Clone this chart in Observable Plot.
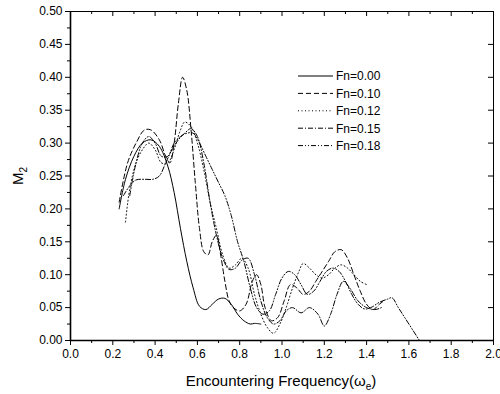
<!DOCTYPE html>
<html><head><meta charset="utf-8">
<script src="https://cdn.jsdelivr.net/npm/d3@7"></script>
<script src="https://cdn.jsdelivr.net/npm/@observablehq/plot@0.6"></script>
<style>body{margin:0;background:#fff}</style>
</head><body><div id="chart"></div>
<script>
const seriesNames = ["Fn=0.00","Fn=0.10","Fn=0.12","Fn=0.15","Fn=0.18"];
const dashes = [null, "5,3", "1,2.5", "5,2,1,2", "5,2,1,2,1,2"];

const x00 = [0.23,0.26,0.30,0.34,0.38,0.42,0.46,0.49,0.52,0.55,0.58,0.61,0.64,0.67,0.70,0.73,0.76,0.79,0.82,0.85,0.87,0.90];
const y00 = [0.20,0.245,0.28,0.30,0.305,0.295,0.265,0.225,0.17,0.12,0.08,0.052,0.047,0.055,0.063,0.064,0.055,0.04,0.03,0.025,0.026,0.025];

const x10 = [0.23,0.27,0.31,0.35,0.38,0.42,0.45,0.47,0.49,0.51,0.53,0.55,0.57,0.59,0.61,0.63,0.65,0.67,0.69,0.71,0.73,0.75,0.77,0.80,0.83,0.86,0.88,0.90,0.92,0.95,0.98,1.01,1.04,1.07,1.10,1.13,1.16,1.19,1.22,1.25,1.28,1.31,1.34,1.37,1.40,1.43,1.46,1.48];
const y10 = [0.21,0.27,0.30,0.32,0.32,0.305,0.28,0.27,0.30,0.36,0.40,0.38,0.32,0.24,0.17,0.135,0.13,0.15,0.16,0.13,0.09,0.06,0.05,0.045,0.055,0.09,0.10,0.085,0.05,0.03,0.035,0.06,0.085,0.08,0.07,0.075,0.09,0.105,0.12,0.135,0.138,0.125,0.10,0.075,0.055,0.047,0.055,0.06];

const x12 = [0.26,0.28,0.31,0.34,0.37,0.40,0.43,0.46,0.49,0.52,0.54,0.57,0.60,0.63,0.66,0.69,0.72,0.75,0.78,0.81,0.84,0.87,0.90,0.93,0.96,0.99,1.02,1.05,1.08,1.10,1.13,1.16,1.19,1.22,1.25,1.28,1.31,1.34,1.37,1.40];
const y12 = [0.18,0.23,0.27,0.29,0.30,0.29,0.27,0.27,0.29,0.32,0.332,0.325,0.30,0.26,0.21,0.17,0.13,0.11,0.115,0.125,0.11,0.07,0.04,0.02,0.011,0.025,0.05,0.08,0.105,0.117,0.11,0.10,0.095,0.10,0.11,0.115,0.11,0.10,0.09,0.085];

const x15 = [0.25,0.28,0.31,0.35,0.39,0.42,0.45,0.48,0.51,0.54,0.57,0.60,0.63,0.66,0.69,0.72,0.75,0.78,0.81,0.84,0.87,0.90,0.93,0.96,0.99,1.02,1.05,1.09,1.13,1.17,1.20,1.23,1.26,1.29,1.32,1.36,1.40,1.44,1.47];
const y15 = [0.22,0.235,0.244,0.245,0.245,0.25,0.27,0.29,0.305,0.315,0.322,0.31,0.27,0.21,0.16,0.125,0.108,0.11,0.122,0.125,0.10,0.06,0.035,0.025,0.03,0.045,0.05,0.042,0.05,0.04,0.022,0.04,0.07,0.09,0.08,0.06,0.05,0.047,0.05];

const x18 = [0.28,0.31,0.34,0.37,0.40,0.43,0.46,0.49,0.52,0.55,0.58,0.61,0.64,0.67,0.70,0.73,0.76,0.79,0.82,0.85,0.88,0.91,0.94,0.97,1.00,1.03,1.06,1.09,1.12,1.15,1.18,1.21,1.24,1.27,1.30,1.33,1.36,1.39,1.42,1.46,1.50,1.52,1.55,1.58,1.62,1.65];
const y18 = [0.22,0.27,0.30,0.31,0.30,0.28,0.28,0.30,0.31,0.315,0.315,0.30,0.28,0.26,0.24,0.22,0.19,0.15,0.12,0.08,0.05,0.04,0.045,0.07,0.095,0.105,0.10,0.085,0.07,0.075,0.09,0.105,0.11,0.105,0.09,0.07,0.055,0.048,0.05,0.058,0.063,0.065,0.05,0.035,0.015,0.0];

const xs = [x00,x10,x12,x15,x18];
const ys = [y00,y10,y12,y15,y18];

const xMajor = d3.range(0, 2.001, 0.2);
const xMinor = d3.range(0.1, 2.0, 0.2);
const yMajor = d3.range(0, 0.5001, 0.05);
const yMinor = d3.range(0.025, 0.5, 0.05);

const blank = () => "";
const font = "Arial, 'Liberation Sans', sans-serif";

const W = 500, H = 394, ML = 70, MR = 7, MT = 11, MB = 54;
const innerW = W - ML - MR, innerH = H - MT - MB;

const lineMarks = seriesNames.map((name, i) =>
  Plot.line(xs[i].map((x, j) => ({x, y: ys[i][j], name})), {
    x: "x", y: "y", stroke: "black", strokeWidth: 1,
    strokeDasharray: dashes[i], curve: "catmull-rom"
  })
);

const chart = Plot.plot({
  width: W, height: H,
  marginLeft: ML, marginRight: MR, marginTop: MT, marginBottom: MB,
  style: {fontFamily: font, fontSize: "12px", color: "black", background: "white"},
  x: {domain: [0, 2]},
  y: {domain: [0, 0.5]},
  marks: [
    ...lineMarks,
    Plot.frame({stroke: "black", strokeWidth: 1}),
    Plot.axisX({ticks: xMajor, tickSize: 5, tickPadding: 4, tickFormat: d3.format(".1f"), label: null, fontSize: 12}),
    Plot.axisX({ticks: xMinor, tickSize: 3, tickFormat: blank, label: null}),
    Plot.tickX(xMajor, {x: d => d, stroke: "black", insetBottom: innerH - 5}),
    Plot.tickX(xMinor, {x: d => d, stroke: "black", insetBottom: innerH - 3}),
    Plot.axisY({ticks: yMajor, tickSize: 5, tickPadding: 3, tickFormat: d3.format(".2f"), label: null, fontSize: 12}),
    Plot.axisY({ticks: yMinor, tickSize: 3, tickFormat: blank, label: null}),
    Plot.tickY(yMajor, {y: d => d, stroke: "black", insetLeft: innerW - 5}),
    Plot.ruleX([0], {strokeWidth: 1.6}),
    Plot.ruleY([0], {strokeWidth: 1.6})
  ]
});

document.getElementById("chart").appendChild(chart);

const svg = d3.select(chart);
// axis titles with subscripts
const xt = svg.append("text")
  .attr("x", 281).attr("y", 386).attr("text-anchor", "middle")
  .attr("font-family", font).attr("font-size", 15).attr("fill", "black");
xt.append("tspan").text("Encountering Frequency(ω");
xt.append("tspan").attr("font-size", 10).attr("dy", 4).text("e");
xt.append("tspan").attr("dy", -4).text(")");

const yt = svg.append("text")
  .attr("transform", "translate(23,176) rotate(-90)").attr("text-anchor", "middle")
  .attr("font-family", font).attr("font-size", 15).attr("fill", "black");
yt.append("tspan").text("M");
yt.append("tspan").attr("font-size", 10).attr("dy", 4).text("2");

// legend
const lg = svg.append("g").attr("font-family", font).attr("font-size", 12).attr("text-anchor", "start");
seriesNames.forEach((name, i) => {
  const yy = 76 + i * 17.4;
  lg.append("line").attr("x1", 298).attr("x2", 333).attr("y1", yy).attr("y2", yy)
    .attr("stroke", "black").attr("stroke-width", 1)
    .attr("stroke-dasharray", dashes[i]);
  lg.append("text").attr("x", 336).attr("y", yy).attr("dy", "0.36em")
    .attr("text-anchor", "start").attr("fill", "black").text(name);
});
</script>
</body></html>
